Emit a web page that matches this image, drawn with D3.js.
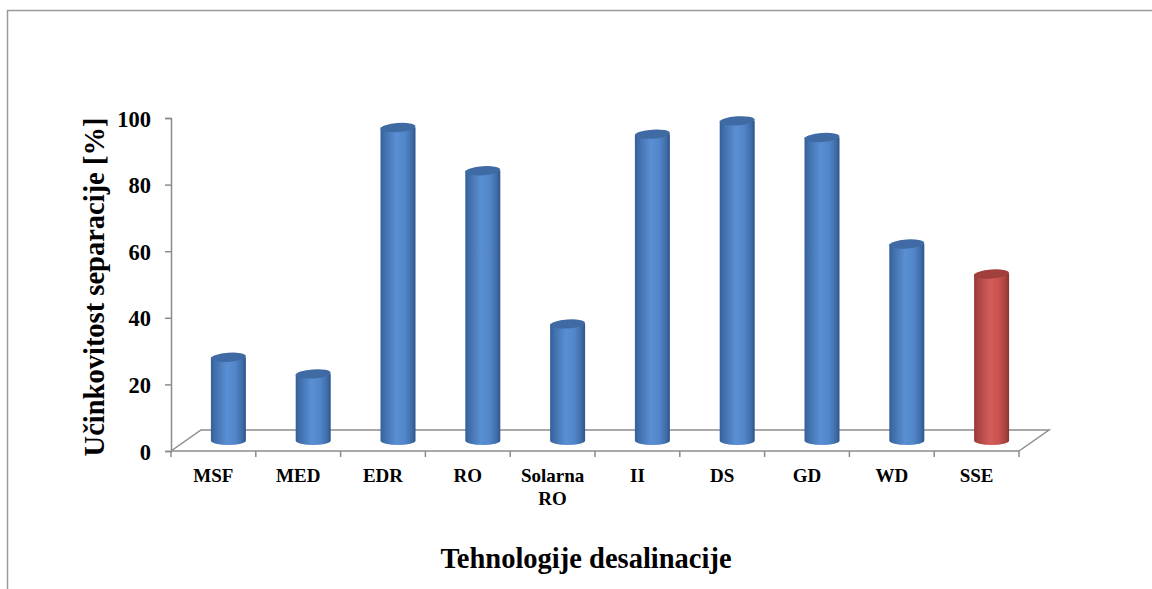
<!DOCTYPE html>
<html lang="en">
<head>
    <meta charset="UTF-8">
    <title>Tehnologije desalinacije</title>
    <style>
        body { margin: 0; background: #fff; }
        svg { display: block; }
        svg text { font-family: "Liberation Serif", "Times New Roman", serif; font-weight: bold; fill: #000; }
    </style>
</head>
<body>
    <div id="chart"></div>
    <script src="https://d3js.org/d3.v7.min.js"></script>
    <script>
        // data
        var categories = ["MSF", "MED", "EDR", "RO", "Solarna RO", "II", "DS", "GD", "WD", "SSE"];
        var values = [25, 20, 94, 81, 35, 92, 96, 91, 59, 50];
        var highlight = ["SSE"];
        var yTicks = [0, 20, 40, 60, 80, 100];

        var width = 1152, height = 589;
        var depthX = 30, depthY = 21;   // floor depth offset

        var svg = d3.select("#chart").append("svg")
            .attr("width", width)
            .attr("height", height);

        // frame (cut off by the picture on the right and bottom)
        svg.append("path")
            .attr("d", "M7.5," + height + " V10.5 H" + width)
            .attr("fill", "none")
            .attr("stroke", "#9a9a9a")
            .attr("stroke-width", 1.5);

        var x = d3.scaleBand().domain(categories).range([171, 1019]).padding(0);
        var y = d3.scaleLinear().domain([0, 100]).range([451, 118]);

        // gradients
        var defs = svg.append("defs");
        function grad(id, stops) {
            var g = defs.append("linearGradient").attr("id", id)
                .attr("x1", "0%").attr("x2", "100%").attr("y1", "0%").attr("y2", "0%");
            stops.forEach(function(s) {
                g.append("stop").attr("offset", s[0]).attr("stop-color", s[1]);
            });
        }
        grad("blueBody", [["0%", "#34609a"], ["12%", "#416fab"], ["45%", "#5a8fd4"], ["70%", "#5286c9"], ["90%", "#3f6ca8"], ["100%", "#2d5488"]]);
        grad("redBody", [["0%", "#953937"], ["12%", "#aa4542"], ["45%", "#d35d5a"], ["70%", "#c9534f"], ["90%", "#a94340"], ["100%", "#8a3331"]]);

        var lineColor = "#8c8c8c";

        // floor
        var x0 = x.range()[0], x1 = x.range()[1], y0 = y(0);
        svg.append("path")
            .attr("d", "M" + x0 + "," + y0 + " L" + (x0 + depthX) + "," + (y0 - depthY) +
                " L" + (x1 + depthX) + "," + (y0 - depthY) + " L" + x1 + "," + y0)
            .attr("fill", "none")
            .attr("stroke", lineColor)
            .attr("stroke-width", 1.5);

        // y axis
        var yAxis = svg.append("g")
            .attr("transform", "translate(" + x0 + ",0)")
            .call(d3.axisLeft(y).tickValues(yTicks).tickSize(6).tickPadding(14));
        yAxis.select(".domain").attr("stroke", lineColor).attr("stroke-width", 1.5);
        yAxis.selectAll(".tick line").attr("stroke", lineColor).attr("stroke-width", 1.5);
        yAxis.selectAll(".tick text")
            .style("font-size", "22.5px")
            .attr("dy", "0.36em");

        // x axis line and boundary ticks
        var boundaries = d3.range(categories.length + 1).map(function(i) { return x0 + i * x.bandwidth(); });
        svg.append("line")
            .attr("x1", x0).attr("x2", x1).attr("y1", y0).attr("y2", y0)
            .attr("stroke", lineColor).attr("stroke-width", 1.5);
        svg.selectAll(".xtick")
            .data(boundaries)
            .enter()
            .append("line")
            .attr("class", "xtick")
            .attr("x1", function(d) { return d; })
            .attr("x2", function(d) { return d; })
            .attr("y1", y0)
            .attr("y2", y0 + 6)
            .attr("stroke", lineColor)
            .attr("stroke-width", 1.5);

        // category labels
        var labels = svg.selectAll(".xlabel")
            .data(categories)
            .enter()
            .append("text")
            .attr("class", "xlabel")
            .attr("text-anchor", "middle")
            .style("font-size", "19px")
            .attr("x", function(d) { return x(d) + x.bandwidth() / 2; })
            .attr("y", 482);
        labels.each(function(d) {
            var words = d.split(" ");
            var t = d3.select(this);
            words.forEach(function(w, i) {
                t.append("tspan")
                    .attr("x", x(d) + x.bandwidth() / 2)
                    .attr("dy", i === 0 ? 0 : 23)
                    .text(w);
            });
        });

        // cylinders
        var rx = 17.5, ry = 4.5;
        var bars = svg.selectAll(".bar")
            .data(categories)
            .enter()
            .append("g")
            .attr("class", "bar");

        bars.append("path")
            .attr("d", function(d, i) {
                var cx = x(d) + x.bandwidth() / 2 + depthX / 2;
                var base = y(0) - depthY / 2;
                var top = y(values[i]) - depthY / 2;
                return "M" + (cx - rx) + "," + top + " L" + (cx - rx) + "," + base +
                    " A" + rx + "," + ry + " 0 0 0 " + (cx + rx) + "," + base +
                    " L" + (cx + rx) + "," + top + " Z";
            })
            .attr("fill", function(d) { return highlight.indexOf(d) >= 0 ? "url(#redBody)" : "url(#blueBody)"; });

        bars.append("ellipse")
            .attr("cx", function(d) { return x(d) + x.bandwidth() / 2 + depthX / 2; })
            .attr("cy", function(d, i) { return y(values[i]) - depthY / 2; })
            .attr("rx", rx)
            .attr("ry", ry)
            .attr("transform", function(d, i) {
                var cx = x(d) + x.bandwidth() / 2 + depthX / 2;
                var cy = y(values[i]) - depthY / 2;
                return "rotate(-4," + cx + "," + cy + ")";
            })
            .attr("fill", function(d) { return highlight.indexOf(d) >= 0 ? "#a13f3c" : "#3f6aa3"; });

        // axis titles
        svg.append("text")
            .attr("text-anchor", "middle")
            .style("font-size", "28.5px")
            .attr("transform", "translate(104,287) rotate(-90)")
            .text("Učinkovitost separacije [%]");

        svg.append("text")
            .attr("text-anchor", "middle")
            .style("font-size", "28.5px")
            .attr("x", 586)
            .attr("y", 568)
            .text("Tehnologije desalinacije");
    </script>
</body>
</html>
